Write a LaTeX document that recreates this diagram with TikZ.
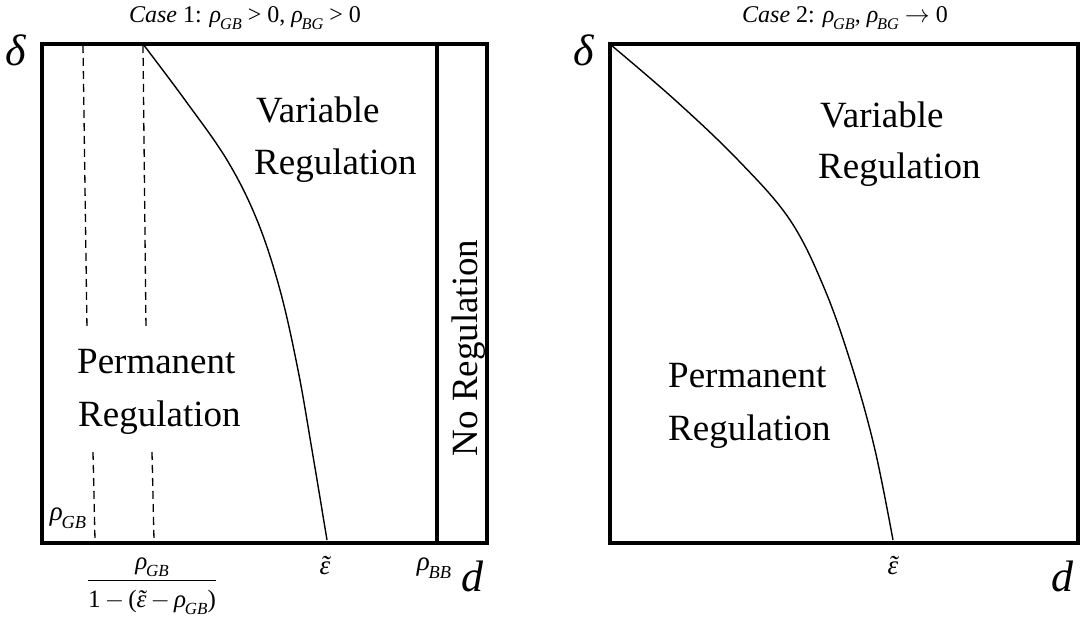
\documentclass[tikz,border=0pt]{standalone}
\usepackage{fontspec}
\setmainfont{Liberation Serif}
\newcommand\rhosub[1]{\textit{ρ}\kern-0.05em\raisebox{-0.28em}{\fontsize{0.68em}{0.7em}\selectfont\textit{#1}}}
\newcommand\epstil{\textit{\accent"02DC ε}}
\tikzset{
  frame/.style={line width=4pt},
  curve/.style={line width=1.4pt},
  dashline/.style={line width=1.3pt, dash pattern=on 8pt off 5pt},
  region/.style={font=\rmfamily\fontsize{37}{40}\selectfont, inner sep=0pt, anchor=west},
  axis/.style={font=\rmfamily\fontsize{44}{46}\selectfont\itshape, inner sep=0pt},
  ticklab/.style={font=\rmfamily\fontsize{27}{29}\selectfont, inner sep=0pt},
  title/.style={font=\rmfamily\fontsize{24}{26}\selectfont, inner sep=0pt}
}
\begin{document}
\begin{tikzpicture}[x=1pt,y=-1pt]
\useasboundingbox (0,0) rectangle (1092,623);
% ---------- left panel ----------
\draw[dashline] (83,45) -- (87,330);
\draw[dashline] (143,45) -- (146,330);
\draw[dashline] (93,452) -- (95,540);
\draw[dashline] (152,452) -- (154,540);
\draw[curve] plot[smooth, tension=0.6] coordinates {(143,44) (185,100) (227,160) (257,220) (280,290) (298,370) (312,450) (327,540)};
\draw[line width=3.5pt] (437,44) -- (437,542);
\draw[frame] (42,44) rectangle (487,543);
\node[title] (t1) at (245,18) {\textit{Case} 1: \rhosub{GB} > 0, \rhosub{BG} > 0};
\node[axis] (dl1) at (16,50) {δ};
\node[axis] (dd1) at (472,576) {d};
\node[region] (v1) at (256,110) {Variable};
\node[region] (r1) at (254,166) {Regulation};
\node[region] (p1) at (77,362) {Permanent};
\node[region] (q1) at (78,418) {Regulation};
\node[region, rotate=90, anchor=center] (n1) at (469,348) {No Regulation};
\node[ticklab] (g1) at (68,518) {\rhosub{GB}};
\node[ticklab] (e1) at (325,566) {\epstil};
\node[ticklab] (b1) at (434,568) {\rhosub{BB}};
\node[ticklab, font=\rmfamily\fontsize{25}{27}\selectfont] (f1) at (152,586) {$\displaystyle\frac{\mbox{\rhosub{GB}}}{\mbox{\rule{0pt}{1.05em}1\,$-$\,(\epstil\,$-$\,\rhosub{GB})}}$};
% ---------- right panel ----------
\draw[curve] plot[smooth, tension=0.6] coordinates {(611,45) (675,100) (738,160) (790,220) (825,290) (853,370) (875,450) (893,540)};
\draw[frame] (610,44) rectangle (1078,543);
\node[title] (t2) at (845,18) {\textit{Case} 2: \rhosub{GB}, \rhosub{BG} $\rightarrow$ 0};
\node[axis] (dl2) at (584,50) {δ};
\node[axis] (dd2) at (1062,576) {d};
\node[region] (v2) at (820,115) {Variable};
\node[region] (r2) at (818,170) {Regulation};
\node[region] (p2) at (668,376) {Permanent};
\node[region] (q2) at (668,432) {Regulation};
\node[ticklab] (e2) at (893,566) {\epstil};
\end{tikzpicture}
\end{document}
